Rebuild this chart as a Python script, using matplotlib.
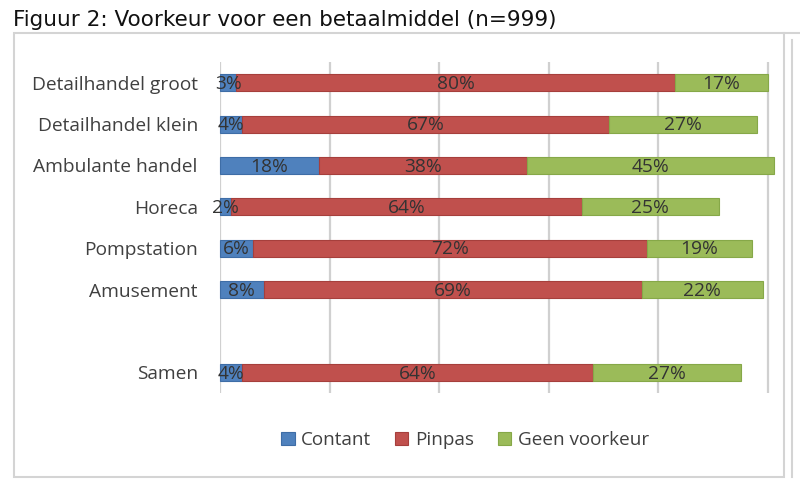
import matplotlib.pyplot as plt
from matplotlib.patches import Rectangle
from matplotlib.lines import Line2D

categories = ["Detailhandel groot", "Detailhandel klein", "Ambulante handel",
              "Horeca", "Pompstation", "Amusement", "Samen"]
contant = [3, 4, 18, 2, 6, 8, 4]
pinpas = [80, 67, 38, 64, 72, 69, 64]
geen = [17, 27, 45, 25, 19, 22, 27]
series_names = ["Contant", "Pinpas", "Geen voorkeur"]

colors = ["#4F81BD", "#C0504D", "#9BBB59"]
edges = ["#3E6DA6", "#A63F3C", "#86A848"]
text_col = "#404040"
font = "Open Sans"

# slot 6 is left empty before "Samen"
ypos = [0, 1, 2, 3, 4, 5, 7]

fig = plt.figure(figsize=(8, 4.87), dpi=100)

# chart frame
fig.add_artist(Rectangle((14 / 800, 1 - 477 / 487), 770 / 800, 444 / 487,
                         transform=fig.transFigure, fill=False,
                         edgecolor="#D4D4D4", linewidth=1.5))
fig.add_artist(Line2D([784 / 800, 1], [1 - 33 / 487] * 2, transform=fig.transFigure,
                      color="#D4D4D4", linewidth=1.5))
fig.add_artist(Line2D([792 / 800] * 2, [1 - 477 / 487, 1 - 40 / 487],
                      transform=fig.transFigure, color="#D4D4D4", linewidth=1.5))

fig.text(13 / 800, 1 - 20 / 487, "Figuur 2: Voorkeur voor een betaalmiddel (n=999)",
         fontsize=15.5, family="DejaVu Sans", color="#111111", va="center", ha="left")

ax = fig.add_axes([220 / 800, 1 - 393 / 487, 559 / 800, 331 / 487])

left = [0] * len(categories)
for vals, name, c, ec in zip([contant, pinpas, geen], series_names, colors, edges):
    frac = [v / 100 for v in vals]
    bars = ax.barh(ypos, frac, left=left, height=0.41, color=c, edgecolor=ec,
                   linewidth=0.8, label=name, zorder=3, clip_on=False)
    for b, v in zip(bars, vals):
        ax.text(b.get_x() + b.get_width() / 2, b.get_y() + b.get_height() / 2 + 0.03,
                f"{v}%", ha="center", va="center", fontsize=13.8, family=font,
                color="#333333", zorder=4)
    left = [l + f for l, f in zip(left, frac)]

ax.set_xlim(0, 1.02)
ax.set_ylim(7.5, -0.5)
ax.set_xticks([0, 0.2, 0.4, 0.6, 0.8, 1.0])
ax.set_xticklabels([])
ax.tick_params(axis="x", length=0)
ax.grid(axis="x", color="#D0D0D0", linewidth=1.6, zorder=0)
ax.set_yticks(ypos)
ax.set_yticklabels(categories, fontsize=13.8, family=font, color=text_col)
ax.tick_params(axis="y", length=0, pad=16)
for s in ax.spines.values():
    s.set_visible(False)

fig.legend(loc="center", bbox_to_anchor=(465 / 800, 1 - 440 / 487), ncol=3,
           frameon=False, handlelength=0.72, handleheight=0.72, handletextpad=0.35,
           columnspacing=1.25, prop={"family": font, "size": 13.6},
           labelcolor=text_col)

fig.savefig("out.png", dpi=100)
